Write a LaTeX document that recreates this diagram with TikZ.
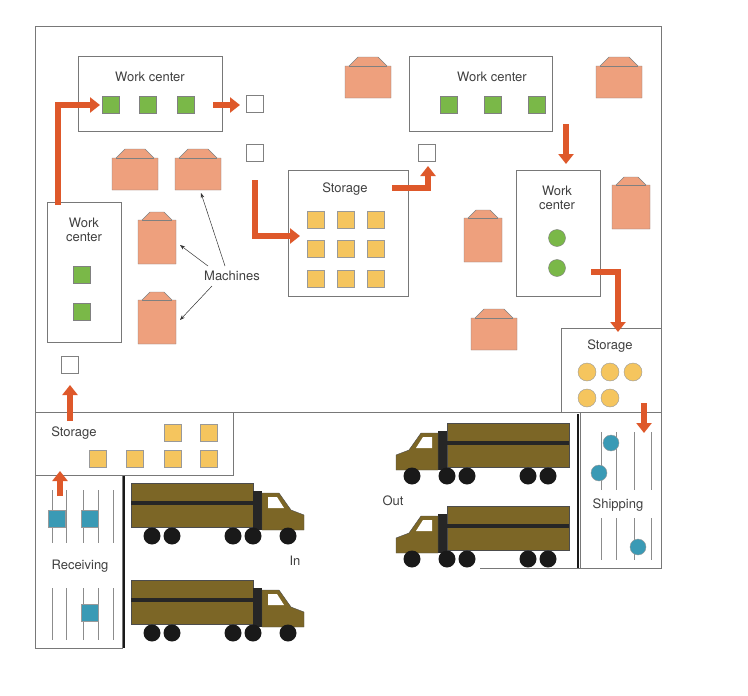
\documentclass[tikz,border=0pt]{standalone}
\usepackage{fontspec}
\setmainfont{TeX Gyre Heros}
\usetikzlibrary{arrows.meta}
\definecolor{truck}{RGB}{124,102,38}
\definecolor{mach}{RGB}{238,160,125}
\definecolor{arr}{RGB}{222,88,42}
\definecolor{grn}{RGB}{122,184,72}
\definecolor{yel}{RGB}{245,197,94}
\definecolor{blu}{RGB}{58,154,181}
\definecolor{wall}{RGB}{120,120,120}
\begin{document}
\begin{tikzpicture}[x=1pt,y=-1pt,
  wall/.style={draw=wall,line width=0.8pt},
  box/.style={draw=wall,line width=0.8pt,fill=white},
  lbl/.style={font=\fontsize{13}{15}\selectfont,text=black!75,align=center},
  gsq/.style={draw=black!50,fill=grn,minimum size=17pt,inner sep=0pt},
  ysq/.style={draw=black!40,fill=yel,minimum size=17pt,inner sep=0pt},
  bsq/.style={draw=black!40,fill=blu,minimum size=17pt,inner sep=0pt},
  wsq/.style={draw=black!50,fill=white,minimum size=17pt,inner sep=0pt},
  gci/.style={circle,draw=black!50,fill=grn,minimum size=17pt,inner sep=0pt},
  yci/.style={circle,draw=black!40,fill=yel,minimum size=18pt,inner sep=0pt},
  bci/.style={circle,draw=black!40,fill=blu,minimum size=16pt,inner sep=0pt},
  flow/.style={draw=arr,line width=6.5pt,-{Triangle[width=15pt,length=10pt]}},
  track/.style={draw=black!45,line width=0.7pt},
  pt/.style={-{Stealth[length=5pt]},draw=black!80,line width=0.5pt},
  machw/.pic={\draw[black!50,fill=mach] (-23,-12)--(-19,-12)--(-10,-21)--(10,-21)--(19,-12)--(23,-12)--(23,20)--(-23,20)--cycle;
              \draw[black!50] (-19,-12)--(19,-12);},
  macht/.pic={\draw[black!50,fill=mach] (-19,-22)--(-15,-22)--(-7,-30)--(7,-30)--(15,-22)--(19,-22)--(19,22)--(-19,22)--cycle;
              \draw[black!50] (-15,-22)--(15,-22);},
  truck/.pic={\fill[truck] (0,0) rectangle (122,44);
     \draw[black!70,line width=0.5pt] (0,0) rectangle (122,44);
     \fill[black!85] (0,18) rectangle (122,22);
     \fill[black!85] (122,8) rectangle (131,47);
     \draw[black!70,fill=truck] (131,10)--(148,10)--(160,27)--(173,32)--(173,47)--(131,47)--cycle;
     \fill[white] (137,14)--(146,14)--(153,25)--(137,25)--cycle;
     \foreach \w in {21,41,102,122,157} \fill[black!90] (\w,53) circle (8.5);}]
\useasboundingbox (0,0) rectangle (748,696);
% outer walls
\draw[wall] (35,648)--(35,26)--(661,26)--(661,568)--(480,568);
\draw[wall] (35,412)--(661,412);
\draw[box] (35,412) rectangle (233,475);
\draw[box] (35,475) rectangle (122,648);
\draw[black!90,line width=2.5pt] (124,476)--(124,648);
\draw[box] (561,328) rectangle (661,412);
\draw[wall] (580,412)--(580,568);
\draw[black!90,line width=2.5pt] (578,414)--(578,568);
% work centers
\draw[box] (78,56) rectangle (222,131);
\node[lbl] (wc1) at (150,77) {Work center};
\node[gsq] (g1) at (111,105) {}; \node[gsq] (g2) at (148,105) {}; \node[gsq] (g3) at (186,105) {};
\draw[box] (47,202) rectangle (121,342);
\node[lbl] (wc2) at (84,230) {Work\\[-1pt]center};
\node[gsq] (g4) at (82,275) {}; \node[gsq] (g5) at (82,312) {};
\draw[box] (409,56) rectangle (552,131);
\node[lbl] (wc3) at (492,77) {Work center};
\node[gsq] (g6) at (449,105) {}; \node[gsq] (g7) at (493,105) {}; \node[gsq] (g8) at (537,105) {};
\draw[box] (516,170) rectangle (600,296);
\node[lbl] (wc4) at (557,198) {Work\\[-1pt]center};
\node[gci] (c1) at (557,238) {}; \node[gci] (c2) at (557,268) {};
% center storage
\draw[box] (288,170) rectangle (408,296);
\node[lbl] (st1) at (345,189) {Storage};
\foreach \i in {316,346,376} \foreach \j in {220,249,279} \node[ysq] at (\i,\j) {};
% right storage
\node[lbl] (st2) at (610,346) {Storage};
\node[yci] at (587,372) {}; \node[yci] at (610,372) {}; \node[yci] at (633,372) {};
\node[yci] at (587,398) {}; \node[yci] at (610,398) {};
% left storage
\node[lbl] (st3) at (74,433) {Storage};
\foreach \p in {(173,433),(209,433),(98,459),(135,459),(173,459),(209,459)} \node[ysq] at \p {};
% white squares
\node[wsq] (w1) at (255,104) {}; \node[wsq] (w2) at (255,153) {};
\node[wsq] (w3) at (427,153) {}; \node[wsq] (w4) at (70,365) {};
% machines
\pic at (135,170) {machw}; \pic at (198,170) {machw};
\pic at (157,242) {macht}; \pic at (157,322) {macht};
\pic at (368,78) {machw}; \pic at (619,78) {machw};
\pic at (631,207) {macht}; \pic at (483,240) {macht};
\pic at (494,330) {machw};
\node[lbl] (mac) at (232,276) {Machines};
\draw[pt] (225,266)--(201,193);
\draw[pt] (208,266)--(180,245);
\draw[pt] (212,286)--(180,320);
% flows
\draw[flow] (58,205)--(58,105)--(100,105);
\draw[flow] (213,105)--(240,105);
\draw[flow] (255,180)--(255,236)--(300,236);
\draw[flow] (392,188)--(428,188)--(428,166);
\draw[flow] (566,124)--(566,164);
\draw[flow] (591,272)--(618,272)--(618,332);
\draw[flow] (644,403)--(644,433);
\draw[flow] (70,421)--(70,385);
\draw[flow] (60,496)--(60,471);
% receiving tracks
\foreach \x in {52,66,83,98,113} {\draw[track] (\x,490)--(\x,543); \draw[track] (\x,588)--(\x,640);}
\node[bsq] at (57,519) {}; \node[bsq] at (90,519) {}; \node[bsq] at (90,613) {};
\node[lbl] (rec) at (80,566) {Receiving};
% shipping tracks
\foreach \x in {601,616,634,651} {\draw[track] (\x,432)--(\x,490); \draw[track] (\x,518)--(\x,560);}
\node[bci] at (611,443) {}; \node[bci] at (599,473) {}; \node[bci] at (638,547) {};
\node[lbl] (shp) at (618,505) {Shipping};
% trucks
\pic at (131,483) {truck}; \pic at (131,580) {truck};
\pic[xscale=-1] at (569,423) {truck}; \pic[xscale=-1] at (569,506) {truck};
\node[lbl] (in) at (295,561) {In};
\node[lbl] (out) at (393,501) {Out};
\end{tikzpicture}
\end{document}
